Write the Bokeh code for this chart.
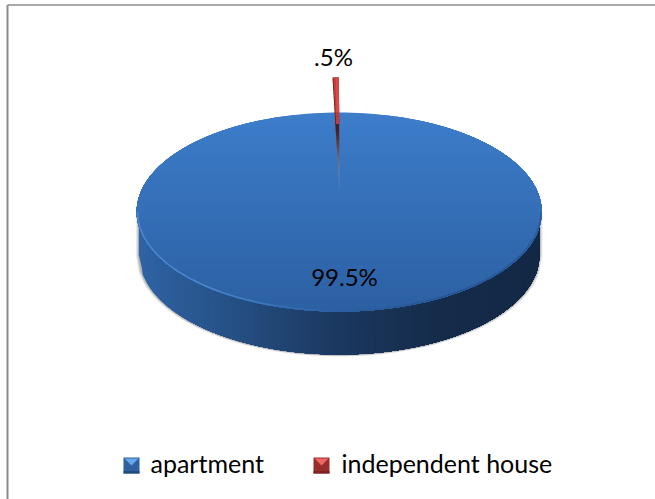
import math
from bokeh.plotting import figure
from bokeh.core.properties import value
from bokeh.embed import file_html
from bokeh.resources import INLINE

categories = ["apartment", "independent house"]
shares = [99.5, 0.5]
share_labels = ["99.5%", ".5%"]

W, H = 655, 499
p = figure(width=W, height=H, x_range=(0, W), y_range=(H, 0), toolbar_location=None,
           output_backend="svg", min_border=0, margin=(0, 0, 0, 0))
p.axis.visible = False
p.grid.visible = False
p.outline_line_color = None
p.background_fill_color = "white"
p.border_fill_color = "white"

FONT = value("Lato")
cx, cy, rx, ry, depth = 338.7, 211.5, 202.5, 99.5, 43.0


def mix(a, b, t):
    t = max(0.0, min(1.0, t))
    return "#%02x%02x%02x" % tuple(round(a[i] + (b[i] - a[i]) * t) for i in range(3))


def ell_y(x, rxx=rx, ryy=ry):
    return ryy * math.sqrt(max(0.0, 1 - ((x - cx) / rxx) ** 2))


# border
p.line([7, 7], [H, 4.5], line_color="#8c8c8c", line_width=2)
p.line([7, W], [4.5, 4.5], line_color="#8c8c8c", line_width=1.5)

# soft shadow of the wall
for grow, alpha in [(3.0, 0.10), (2.2, 0.16), (1.4, 0.22), (0.7, 0.30)]:
    r2 = rx - 2 + grow
    n = 160
    xs = [cx - r2 + 2 * r2 * i / n for i in range(n + 1)]
    ys = [cy + depth + 0.6 + ell_y(x, r2, ry + grow * 0.5) for x in xs]
    p.patch(xs + [cx + r2, cx - r2], ys + [cy, cy], fill_color="#808080", fill_alpha=alpha, line_color=None)

# wall: horizontal gradient painted left to right
wall_rx = rx - 2.2
steps = 110
W_STOPS = [(0.0, (0x2e, 0x63, 0xa3)), (0.25, (0x25, 0x4e, 0x82)), (0.5, (0x1b, 0x38, 0x5f)),
           (0.75, (0x15, 0x2b, 0x4a)), (1.0, (0x13, 0x28, 0x45))]


def wall_color(t):
    for (t0, c0), (t1, c1) in zip(W_STOPS, W_STOPS[1:]):
        if t <= t1:
            return mix(c0, c1, (t - t0) / (t1 - t0))
    return mix(W_STOPS[-1][1], W_STOPS[-1][1], 1)


wx, wy, wc = [], [], []
for k in range(steps):
    x0 = cx - wall_rx + 2 * wall_rx * k / steps
    xs = [x0 + (cx + wall_rx - x0) * i / 80 for i in range(81)]
    top = [cy + ell_y(x, wall_rx, ry) for x in xs]
    bot = [t + depth for t in top]
    wx.append(xs + xs[::-1])
    wy.append(top + bot[::-1])
    wc.append(wall_color(k / (steps - 1)))
p.patches(wx, wy, fill_color=wc, line_color=None)

# top face: vertical gradient painted top to bottom
TOP, BOTTOM = (0x3d, 0x7d, 0xca), (0x2c, 0x60, 0xa3)
fx, fy, fc = [], [], []
for k in range(80):
    y0 = cy - ry + 2 * ry * k / 80
    a0 = math.asin(max(-1, min(1, (y0 - cy) / ry)))
    angs = [a0 + (math.pi - 2 * a0) * i / 200 for i in range(201)]
    fx.append([cx + rx * math.cos(a) for a in angs])
    fy.append([cy + ry * math.sin(a) for a in angs])
    fc.append(mix(TOP, BOTTOM, k / 79))
p.patches(fx, fy, fill_color=fc, line_color=None)

# rim highlight on the lower left, dark rim on the lower right
rim = [math.pi * i / 120 for i in range(121)]
for a0, a1 in zip(rim, rim[1:]):
    t = (a0 - math.pi / 2) / (math.pi / 2)
    if t > 0:
        col, alpha = "#5b96dc", 0.7 * min(1, t * 2.5)
    else:
        col, alpha = "#16325a", 0.3 * min(1, -t * 2.5)
    p.line([cx + (rx - 0.8) * math.cos(a0), cx + (rx - 0.8) * math.cos(a1)],
           [cy + (ry - 0.8) * math.sin(a0), cy + (ry - 0.8) * math.sin(a1)],
           line_color=col, line_alpha=alpha, line_width=1.5)

# exploded small slice, its angle taken from the share
half = math.radians(shares[1] / sum(shares) * 360) / 2
ax, ay = cx + 0.4, cy - 18
tx0, ty0 = cx - 6.7, cy - 134.5
tx1, ty1 = tx0 + 2 * rx * math.sin(half), ty0

# fading inner wall running over the blue face
N = 30
gx, gy, gc, ga = [], [], [], []
for k in range(N):
    f0, f1 = k / N, (k + 1) / N
    y0 = ty0 + (ay - ty0) * f0
    y1 = ty0 + (ay - ty0) * f1 + 0.5
    l0, l1 = tx0 + (ax - tx0) * f0, tx0 + (ax - tx0) * f1
    r0, r1 = tx1 + (ax - tx1) * f0, tx1 + (ax - tx1) * f1
    gx.append([l0, r0, r1, l1])
    gy.append([y0, y0, y1, y1])
    t = k / (N - 1)
    gc.append(mix((0x4a, 0x1c, 0x1e), (0xb0, 0xb8, 0xc4), max(0, (t - 0.45) / 0.55)))
    ga.append(1 - max(0, (t - 0.6) / 0.4) * 0.85)
p.patches(gx, gy, fill_color=gc, fill_alpha=ga, line_color=None)

# red top face of the slice
p.patch([tx0 + 0.6, tx1, cx + 0.2, cx - 3.2], [ty0, ty1, cy - 88, cy - 88], fill_color="#c33a37", line_color=None)
p.patch([tx0 + 3.0, tx1 - 0.4, tx1 + 0.4, tx0 + 3.6], [ty0, ty1, cy - 100, cy - 100], fill_color="#e0504c", fill_alpha=0.75, line_color=None)

# labels
label_x = [344, 333]
label_y = [275.5, 55.5]
p.text(label_x, label_y, text=share_labels, text_font=FONT, text_font_size="24px",
       text_color="#000000", text_align="center", text_baseline="middle")

# legend
lg_cols = [((0x2f, 0x66, 0xa8), (0x6a, 0xa8, 0xee)), ((0xa0, 0x30, 0x2e), (0xee, 0x66, 0x62))]
lg_x = [123, 313]
lg_tx = [150, 341]
s = 16
for (dark, light), x0, tx, name in zip(lg_cols, lg_x, lg_tx, categories):
    y0 = 457
    p.quad(left=x0, right=x0 + s, top=y0, bottom=y0 + s, fill_color=mix(dark, (0, 0, 0), 0.05), line_color=None)
    p.patch([x0 + 1, x0 + s - 1, x0 + s / 2], [y0 + 1, y0 + 1, y0 + s * 0.5], fill_color=light, line_color=None)
    p.patch([x0, x0 + s, x0 + s, x0], [y0 + s - 2.5, y0 + s - 2.5, y0 + s, y0 + s],
            fill_color=mix(dark, (0, 0, 0), 0.25), line_color=None)
    p.text([tx], [462.5], text=[name], text_font=FONT, text_font_size="25px", text_color="#000000",
           text_align="left", text_baseline="middle")

open("out.html", "w").write(file_html(p, INLINE))
